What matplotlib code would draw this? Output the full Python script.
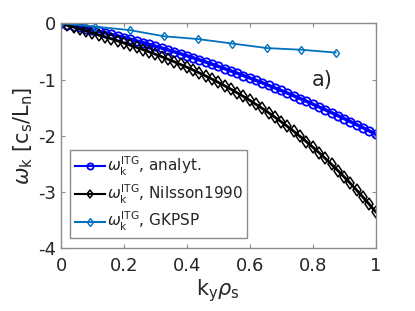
import matplotlib.pyplot as plt

plt.rcParams['mathtext.fontset'] = 'dejavusans'

# normalised wavenumber k_y rho_s
ky = [0.00, 0.02, 0.04, 0.06, 0.08, 0.10, 0.12, 0.14, 0.16, 0.18,
      0.20, 0.22, 0.24, 0.26, 0.28, 0.30, 0.32, 0.34, 0.36, 0.38,
      0.40, 0.42, 0.44, 0.46, 0.48, 0.50, 0.52, 0.54, 0.56, 0.58,
      0.60, 0.62, 0.64, 0.66, 0.68, 0.70, 0.72, 0.74, 0.76, 0.78,
      0.80, 0.82, 0.84, 0.86, 0.88, 0.90, 0.92, 0.94, 0.96, 0.98, 1.00]

# analytical ITG frequency
w_analyt = [0.000, -0.022, -0.045, -0.069, -0.093, -0.118, -0.143, -0.170, -0.197, -0.225,
            -0.253, -0.282, -0.312, -0.343, -0.374, -0.406, -0.439, -0.472, -0.506, -0.541,
            -0.577, -0.613, -0.650, -0.688, -0.726, -0.765, -0.805, -0.845, -0.886, -0.928,
            -0.971, -1.014, -1.058, -1.103, -1.148, -1.194, -1.241, -1.288, -1.337, -1.386,
            -1.435, -1.486, -1.537, -1.588, -1.641, -1.694, -1.748, -1.802, -1.857, -1.913, -1.970]

# Nilsson 1990 model
w_nilsson = [0.000, -0.034, -0.067, -0.101, -0.136, -0.170, -0.205, -0.240, -0.276, -0.313,
             -0.350, -0.388, -0.427, -0.467, -0.508, -0.550, -0.593, -0.638, -0.684, -0.731,
             -0.780, -0.830, -0.883, -0.936, -0.992, -1.050, -1.110, -1.171, -1.235, -1.301,
             -1.370, -1.441, -1.514, -1.590, -1.669, -1.750, -1.834, -1.921, -2.011, -2.104,
             -2.200, -2.299, -2.402, -2.508, -2.617, -2.730, -2.846, -2.967, -3.091, -3.218, -3.350]

# GKPSP simulation points
ky_gk = [0.0, 0.109, 0.218, 0.327, 0.436, 0.545, 0.655, 0.764, 0.873]
w_gk = [0.0, -0.06, -0.12, -0.23, -0.28, -0.36, -0.44, -0.47, -0.52]

fig = plt.figure(figsize=(4.15, 3.11), dpi=100)
ax = fig.add_axes([0.147, 0.2016, 0.758, 0.7234])

ax.plot(ky, w_analyt, color=(0, 0, 1), lw=2.5, marker='o', ms=6,
        mfc='none', mew=1.3, label=r'$\omega_\mathrm{k}^\mathrm{ITG}$, analyt.')
ax.plot(ky, w_nilsson, color='black', lw=2.0, marker='d', ms=6,
        mfc='none', mew=1.1, label=r'$\omega_\mathrm{k}^\mathrm{ITG}$, Nilsson1990')
ax.plot(ky_gk, w_gk, color=(0, 0.447, 0.741), lw=1.3, marker='d', ms=4.5,
        mfc='none', mew=1.0, label=r'$\omega_\mathrm{k}^\mathrm{ITG}$, GKPSP')

ax.set_xlim(0, 1)
ax.set_ylim(-4, 0)
ax.set_xticks([0, 0.2, 0.4, 0.6, 0.8, 1])
ax.set_xticklabels(['0', '0.2', '0.4', '0.6', '0.8', '1'])
ax.set_yticks([-4, -3, -2, -1, 0])
ax.set_yticklabels(['-4', '-3', '-2', '-1', '0'])

for s in ax.spines.values():
    s.set_color('#8c8c8c')
    s.set_linewidth(1.0)
ax.tick_params(direction='in', length=3, width=0.8, color='#8c8c8c',
               labelcolor='#262626', labelsize=13, top=True, right=True)
ax.tick_params(axis='x', pad=6)

ax.set_xlabel(r'$\mathrm{k}_\mathrm{y}\rho_\mathrm{s}$', fontsize=15, color='#262626', labelpad=2)
ax.set_ylabel(r'$\omega_\mathrm{k}$ [c$_\mathrm{s}$/L$_\mathrm{n}$]', fontsize=15,
              color='#262626', labelpad=2)

ax.text(0.83, -1.0, 'a)', fontsize=15, color='#262626', ha='center', va='center')

leg = ax.legend(loc='lower left', bbox_to_anchor=(0.029, 0.046), borderaxespad=0,
                fontsize=11, fancybox=False, framealpha=1, edgecolor='#8c8c8c',
                handlelength=2.0, handletextpad=0.1, labelspacing=0.3,
                borderpad=0.3)
for t in leg.get_texts():
    t.set_color('#262626')
for h in leg.legend_handles:
    h.set_markersize(4.5)
    h.set_linewidth(1.5)

fig.savefig('out.png', dpi=100)
